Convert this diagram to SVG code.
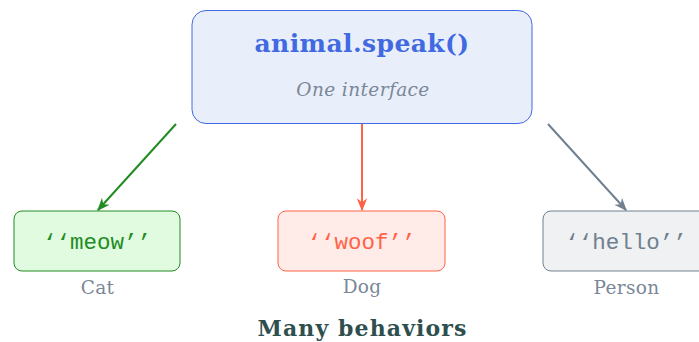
<svg xmlns="http://www.w3.org/2000/svg" width="699" height="342" viewBox="0 0 699 342">
  <style>
    .title { font-family: "DejaVu Serif", serif; font-weight: bold; font-size: 25px; letter-spacing: 0.4px; fill: #4169E1; text-anchor: middle; }
    .sub { font-family: "DejaVu Serif", serif; font-style: italic; font-size: 18.5px; letter-spacing: 0.4px; fill: #7a8797; text-anchor: middle; }
    .mono { font-family: "Liberation Mono", "DejaVu Sans Mono", monospace; font-size: 22.5px; text-anchor: middle; }
    .cap { font-family: "DejaVu Serif", serif; font-size: 18.5px; letter-spacing: 0.3px; fill: #7a8797; text-anchor: middle; }
    .foot { font-family: "DejaVu Serif", serif; font-weight: bold; font-size: 22px; letter-spacing: 1.1px; fill: #2F4F4F; text-anchor: middle; }
    .edge { fill: none; stroke-width: 2; }
  </style>
  <defs>
    <marker id="ah-green" viewBox="0 0 10 10" refX="9" refY="5" markerWidth="13" markerHeight="13" markerUnits="userSpaceOnUse" orient="auto">
      <path d="M0,1 L10,5 L0,9 L3,5 Z" fill="#228B22"/>
    </marker>
    <marker id="ah-red" viewBox="0 0 10 10" refX="9" refY="5" markerWidth="13" markerHeight="13" markerUnits="userSpaceOnUse" orient="auto">
      <path d="M0,1 L10,5 L0,9 L3,5 Z" fill="#FF6347"/>
    </marker>
    <marker id="ah-gray" viewBox="0 0 10 10" refX="9" refY="5" markerWidth="13" markerHeight="13" markerUnits="userSpaceOnUse" orient="auto">
      <path d="M0,1 L10,5 L0,9 L3,5 Z" fill="#708090"/>
    </marker>
  </defs>

  <g id="connectors">
    <line class="edge" x1="176" y1="124" x2="98" y2="210" stroke="#228B22" marker-end="url(#ah-green)"/>
    <line class="edge" x1="362" y1="124" x2="362" y2="210" stroke="#FF6347" marker-end="url(#ah-red)"/>
    <line class="edge" x1="548" y1="124" x2="626" y2="210" stroke="#708090" marker-end="url(#ah-gray)"/>
  </g>

  <g id="interface">
    <rect x="192" y="10.5" width="340" height="113" rx="14" fill="#E9EEFB" stroke="#4169E1" stroke-width="1"/>
    <text class="title" x="362" y="52">animal.speak()</text>
    <text class="sub" x="363" y="95.5">One interface</text>
  </g>

  <g id="cat">
    <rect x="14" y="211" width="166" height="60" rx="8" fill="#E0FBE0" stroke="#228B22" stroke-width="1"/>
    <text class="mono" x="97" y="249" fill="#228B22">‘‘meow’’</text>
    <text class="cap" x="97.5" y="294">Cat</text>
  </g>

  <g id="dog">
    <rect x="278" y="211" width="167" height="60" rx="8" fill="#FFECE8" stroke="#FF6347" stroke-width="1"/>
    <text class="mono" x="361.5" y="249" fill="#FF6347">‘‘woof’’</text>
    <text class="cap" x="362" y="293">Dog</text>
  </g>

  <g id="person">
    <rect x="543" y="211" width="167" height="60" rx="8" fill="#EFF1F3" stroke="#708090" stroke-width="1"/>
    <text class="mono" x="626" y="249" fill="#708090">‘‘hello’’</text>
    <text class="cap" x="626.5" y="294">Person</text>
  </g>

  <text id="caption" class="foot" x="362.5" y="335.5">Many behaviors</text>
</svg>
